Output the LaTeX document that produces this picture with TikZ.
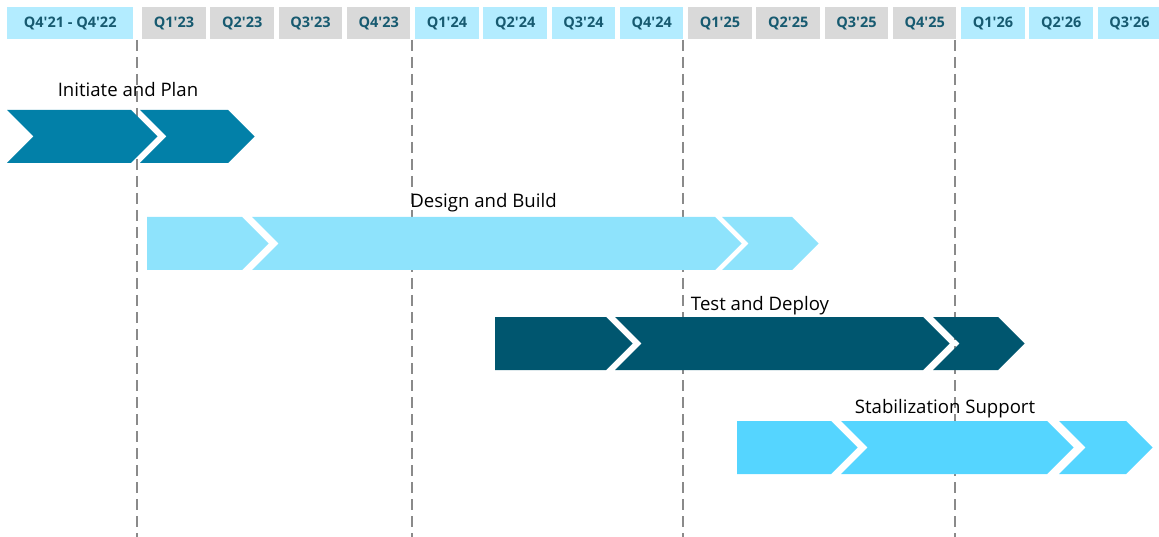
\documentclass[tikz,border=0pt]{standalone}
\usepackage{fontspec}
\setmainfont{Open Sans}
\definecolor{hdrcyan}{HTML}{B3ECFF}
\definecolor{hdrgray}{HTML}{D9D9D9}
\definecolor{hdrtext}{HTML}{175A70}
\definecolor{planblue}{HTML}{0280A8}
\definecolor{buildcyan}{HTML}{8EE3FC}
\definecolor{deployteal}{HTML}{00566F}
\definecolor{supportcyan}{HTML}{55D5FF}
\definecolor{guide}{HTML}{8A8A8A}
% one chevron: #1 left x, #2 right x (top corner), #3 top y, #4 colour, #5 notch depth
\newcommand\chevshape[5]{%
  \fill[#4] (#1,#3) -- (#2,#3) -- (#2+26.5,#3+26.5) -- (#2,#3+53)
    -- (#1,#3+53) -- (#1+#5,#3+26.5) -- cycle;}
\begin{document}
\begin{tikzpicture}[x=1pt,y=-1pt,
  hdr/.style={anchor=north west, minimum width=63.5pt, minimum height=32pt,
    inner sep=0pt, text=hdrtext, font=\bfseries\fontsize{14.5}{14.5}\selectfont},
  phase/.style={anchor=base, inner sep=0pt, text=black,
    font=\fontsize{18.6}{18.6}\selectfont},
  guideline/.style={guide, line width=1.4pt, dash pattern=on 11pt off 6pt}]
\useasboundingbox (0,0) rectangle (1159,537);

% quarter header
\node[hdr, fill=hdrcyan, minimum width=126pt] (h0) at (7,7) {Q4′21 - Q4′22};
\foreach \lab/\col [count=\k from 0] in {
    Q1′23/hdrgray, Q2′23/hdrgray, Q3′23/hdrgray, Q4′23/hdrgray,
    Q1′24/hdrcyan, Q2′24/hdrcyan, Q3′24/hdrcyan, Q4′24/hdrcyan,
    Q1′25/hdrgray, Q2′25/hdrgray, Q3′25/hdrgray, Q4′25/hdrgray,
    Q1′26/hdrcyan, Q2′26/hdrcyan, Q3′26/hdrcyan}
  \node[hdr, fill=\col] (h\k) at ({142+\k*68.25},7) {\lab};

% year separators
\foreach \x/\n in {137/a, 412/b, 683/c, 955/d} {
  \coordinate (top\n) at (\x,40);
  \coordinate (bot\n) at (\x,537);
  \draw[guideline] (top\n) -- (bot\n);
}

% Initiate and Plan
\chevshape{7}{131}{110}{planblue}{26.5}
\chevshape{140}{228}{110}{planblue}{26.5}
% Design and Build
\chevshape{147}{242}{217}{buildcyan}{0}
\chevshape{252}{715}{217}{buildcyan}{26.5}
\chevshape{722}{792}{217}{buildcyan}{26.5}
% Test and Deploy
\chevshape{495}{606}{317}{deployteal}{0}
\chevshape{615}{923}{317}{deployteal}{26.5}
\chevshape{933}{998}{317}{deployteal}{26.5}
% Stabilization Support
\chevshape{737}{831}{421}{supportcyan}{0}
\chevshape{841}{1047}{421}{supportcyan}{26.5}
\chevshape{1059}{1126}{421}{supportcyan}{26.5}

% phase titles
\node[phase] (p1) at (128,97) {Initiate and Plan};
\node[phase] (p2) at (483.5,208) {Design and Build};
\node[phase] (p3) at (760,310) {Test and Deploy};
\node[phase] (p4) at (945,413) {Stabilization Support};
\end{tikzpicture}
\end{document}
